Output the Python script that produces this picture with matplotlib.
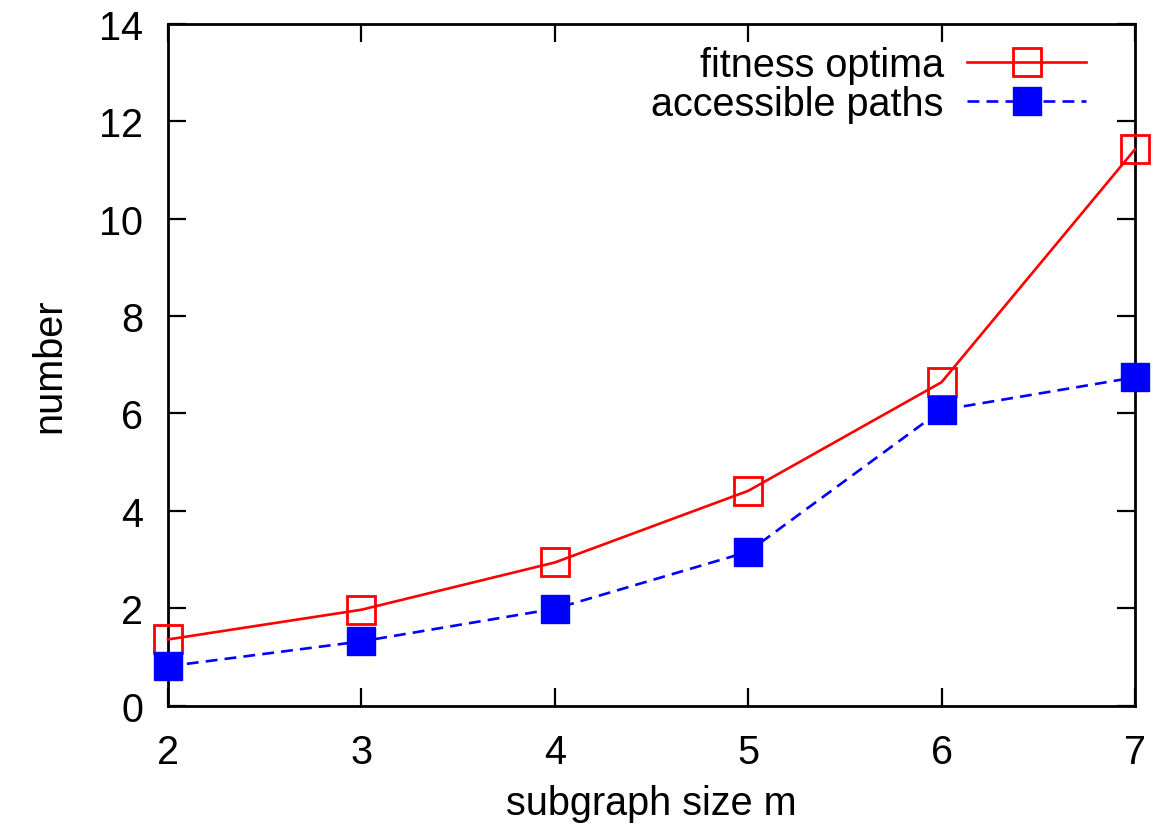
import matplotlib
matplotlib.use("Agg")
import matplotlib.pyplot as plt

# values
subgraph_size = [2, 3, 4, 5, 6, 7]
fitness_optima = [1.36, 1.97, 2.94, 4.41, 6.64, 11.42]
accessible_paths = [0.81, 1.32, 1.99, 3.16, 6.07, 6.74]

x_ticks = [2, 3, 4, 5, 6, 7]
y_ticks = [0, 2, 4, 6, 8, 10, 12, 14]

plt.rcParams["font.family"] = ["Liberation Sans", "DejaVu Sans"]
plt.rcParams["font.size"] = 28.5

fig = plt.figure(figsize=(11.54, 8.28), dpi=100)
ax = fig.add_axes([0.1456, 0.1465, 0.8379, 0.8237])

ax.plot(subgraph_size, fitness_optima, color="red", linewidth=1.9,
        marker="s", markersize=20, markerfacecolor="none",
        markeredgecolor="red", markeredgewidth=2.0, label="fitness optima",
        clip_on=False, zorder=3)
ax.plot(subgraph_size, accessible_paths, color="blue", linewidth=1.9,
        linestyle=(0, (4.5, 2.7)), marker="s", markersize=20,
        markerfacecolor="blue", markeredgecolor="blue",
        label="accessible paths", clip_on=False, zorder=3)

ax.set_xlim(2, 7)
ax.set_ylim(0, 14)
ax.set_xticks(x_ticks)
ax.set_yticks(y_ticks)
ax.tick_params(direction="in", top=True, right=True, length=13, width=1.6)
ax.tick_params(axis="x", pad=20)
ax.tick_params(axis="y", pad=18)
for s in ax.spines.values():
    s.set_linewidth(2)

ax.set_xlabel("subgraph size m", labelpad=9)
ax.set_ylabel("number", labelpad=22)

ax.legend(loc="upper right", frameon=False, markerfirst=False,
          handlelength=3.0, handletextpad=0.6, labelspacing=0.03,
          borderpad=0.2, borderaxespad=0.3, bbox_to_anchor=(0.97, 0.997))

fig.savefig("out.png", dpi=100)
